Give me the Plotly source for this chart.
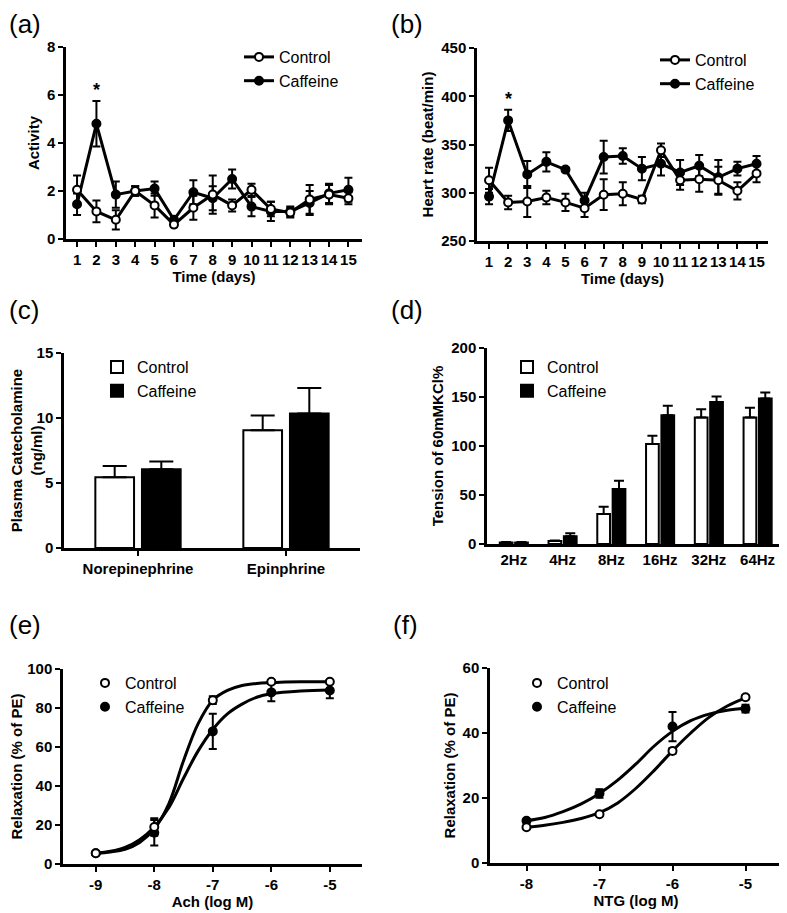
import plotly.graph_objects as go

W, H = 787, 913

# (a) activity
days = list(range(1, 16))
act_ctrl = [2.05, 1.15, 0.8, 2.0, 1.4, 0.6, 1.3, 1.85, 1.4, 2.05, 1.25, 1.1, 1.65, 1.85, 1.7]
act_ctrl_err = [0.6, 0.45, 0.4, 0.2, 0.5, 0.1, 0.5, 0.8, 0.25, 0.25, 0.3, 0.2, 0.6, 0.4, 0.25]
act_caff = [1.45, 4.8, 1.85, 2.0, 2.1, 0.8, 1.95, 1.7, 2.5, 1.35, 1.15, 1.15, 1.5, 1.9, 2.05]
act_caff_err = [0.45, 0.95, 0.55, 0.2, 0.3, 0.15, 0.5, 0.5, 0.4, 0.4, 0.4, 0.2, 0.5, 0.4, 0.5]

# (b) heart rate
hr_ctrl = [313, 290, 291, 295, 290, 284, 298, 299, 293, 344, 313, 314, 313, 302, 320]
hr_ctrl_err = [13, 7, 16, 7, 9, 9, 16, 12, 4, 7, 10, 13, 14, 9, 9]
hr_caff = [296, 375, 319, 332, 324, 292, 337, 338, 325, 330, 321, 328, 316, 325, 330]
hr_caff_err = [8, 11, 14, 10, 2, 8, 17, 8, 12, 12, 13, 11, 18, 7, 8]

# (c) plasma catecholamine
cat_groups = ["Norepinephrine", "Epinphrine"]
cat_ctrl = [5.45, 9.05]
cat_ctrl_err = [0.85, 1.15]
cat_caff = [6.05, 10.35]
cat_caff_err = [0.6, 1.95]

# (d) tension
freqs = ["2Hz", "4Hz", "8Hz", "16Hz", "32Hz", "64Hz"]
ten_ctrl = [1.5, 3, 30.5, 102, 129, 129]
ten_ctrl_err = [0.5, 0.5, 7.5, 8.5, 8.5, 10]
ten_caff = [1.5, 8, 56, 131.5, 145, 148.5]
ten_caff_err = [0.5, 3, 8.5, 9.5, 5.5, 6]

# (e) Ach relaxation
ach_x = [-9, -8, -7, -6, -5]
ach_ctrl = [5.5, 19, 84, 93.5, 93.5]
ach_ctrl_err = [0.8, 4.5, 2, 0.8, 0.8]
ach_caff = [5.5, 16, 68, 88, 89]
ach_caff_err = [0.8, 6.5, 9, 4.5, 4]
ach_fit_x = [-9, -8.75, -8.5, -8.25, -8, -7.75, -7.5, -7.25, -7, -6.75, -6.5, -6.25, -6, -5.5, -5]
ach_fit_ctrl = [5.5, 6.2, 7.5, 11, 18, 31, 53, 72, 84, 89, 91.5, 92.6, 93, 93.4, 93.5]
ach_fit_caff = [5.5, 6.5, 8.5, 12.5, 19, 29, 44, 58, 69, 77, 82, 85.5, 87.3, 88.7, 89.2]

# (f) NTG relaxation
ntg_x = [-8, -7, -6, -5]
ntg_ctrl = [11, 15, 34.5, 51]
ntg_ctrl_err = [0.5, 0.5, 0.8, 0.6]
ntg_caff = [13, 21.4, 42, 47.5]
ntg_caff_err = [0.5, 1.3, 4.5, 1.2]
ntg_fit_x = [-8, -7.75, -7.5, -7.25, -7, -6.75, -6.5, -6.25, -6, -5.75, -5.5, -5.25, -5]
ntg_fit_ctrl = [11, 11.6, 12.5, 13.7, 15.5, 18.5, 23, 28.5, 34.5, 40, 44.8, 48.3, 50.8]
ntg_fit_caff = [13, 14, 15.8, 18.2, 21.4, 25.5, 30.5, 36, 40.5, 43.8, 45.8, 47, 47.6]

FONT = "Liberation Sans, Arial, sans-serif"
OFF = 8  # page body margin in the browser


def px(x):
    return (x - OFF) / W


def py(y):
    return 1 - (y - OFF) / H


def err(vals, w=4):
    return dict(type="data", array=vals, color="black", thickness=2, width=w, visible=True)


def up_err(vals, w):
    return dict(type="data", array=vals, arrayminus=[0] * len(vals), symmetric=False,
                color="black", thickness=2, width=w, visible=True)


def axis_style(**kw):
    d = dict(showline=True, linecolor="black", linewidth=2.5, ticks="outside", ticklen=5,
             tickwidth=2, tickcolor="black", showgrid=False, zeroline=False, automargin=False,
             tickfont=dict(family=FONT, size=15, color="black", weight="bold"),
             title_font=dict(family=FONT, size=15, color="black", weight="bold"))
    d.update(kw)
    return d


fig = go.Figure()

open_m = dict(symbol="circle", size=8, color="white", line=dict(color="black", width=2))
fill_m = dict(symbol="circle", size=8, color="black", line=dict(color="black", width=2))
LW = 3

# panel a
fig.add_trace(go.Scatter(x=days, y=act_caff, error_y=err(act_caff_err), mode="lines+markers",
                         line=dict(color="black", width=LW), marker=fill_m, name="Caffeine",
                         xaxis="x", yaxis="y", legend="legend", legendrank=2))
fig.add_trace(go.Scatter(x=days, y=act_ctrl, error_y=err(act_ctrl_err), mode="lines+markers",
                         line=dict(color="black", width=LW), marker=open_m, name="Control",
                         xaxis="x", yaxis="y", legend="legend", legendrank=1))

# panel b
fig.add_trace(go.Scatter(x=days, y=hr_caff, error_y=err(hr_caff_err), mode="lines+markers",
                         line=dict(color="black", width=LW), marker=fill_m, name="Caffeine",
                         xaxis="x2", yaxis="y2", legend="legend2", legendrank=2))
fig.add_trace(go.Scatter(x=days, y=hr_ctrl, error_y=err(hr_ctrl_err), mode="lines+markers",
                         line=dict(color="black", width=LW), marker=open_m, name="Control",
                         xaxis="x2", yaxis="y2", legend="legend2", legendrank=1))

# panel c
fig.add_trace(go.Bar(x=cat_groups, y=cat_ctrl, error_y=up_err(cat_ctrl_err, 12), name="Control",
                     marker=dict(color="white", line=dict(color="black", width=2)),
                     xaxis="x3", yaxis="y3", legend="legend3", offsetgroup="c1"))
fig.add_trace(go.Bar(x=cat_groups, y=cat_caff, error_y=up_err(cat_caff_err, 12), name="Caffeine",
                     marker=dict(color="black", line=dict(color="black", width=2)),
                     xaxis="x3", yaxis="y3", legend="legend3", offsetgroup="c2"))

# panel d
fig.add_trace(go.Bar(x=freqs, y=ten_ctrl, error_y=up_err(ten_ctrl_err, 5), name="Control",
                     marker=dict(color="white", line=dict(color="black", width=2)),
                     xaxis="x4", yaxis="y4", legend="legend4", offsetgroup="d1"))
fig.add_trace(go.Bar(x=freqs, y=ten_caff, error_y=up_err(ten_caff_err, 5), name="Caffeine",
                     marker=dict(color="black", line=dict(color="black", width=2)),
                     xaxis="x4", yaxis="y4", legend="legend4", offsetgroup="d2"))

# panel e
fig.add_trace(go.Scatter(x=ach_fit_x, y=ach_fit_ctrl, mode="lines", line=dict(color="black", width=LW, shape="spline"),
                         showlegend=False, xaxis="x5", yaxis="y5"))
fig.add_trace(go.Scatter(x=ach_fit_x, y=ach_fit_caff, mode="lines", line=dict(color="black", width=LW, shape="spline"),
                         showlegend=False, xaxis="x5", yaxis="y5"))
fig.add_trace(go.Scatter(x=ach_x, y=ach_caff, error_y=err(ach_caff_err), mode="markers", marker=fill_m,
                         name="Caffeine", xaxis="x5", yaxis="y5", legend="legend5", legendrank=2))
fig.add_trace(go.Scatter(x=ach_x, y=ach_ctrl, error_y=err(ach_ctrl_err), mode="markers", marker=open_m,
                         name="Control", xaxis="x5", yaxis="y5", legend="legend5", legendrank=1))

# panel f
fig.add_trace(go.Scatter(x=ntg_fit_x, y=ntg_fit_ctrl, mode="lines", line=dict(color="black", width=LW, shape="spline"),
                         showlegend=False, xaxis="x6", yaxis="y6"))
fig.add_trace(go.Scatter(x=ntg_fit_x, y=ntg_fit_caff, mode="lines", line=dict(color="black", width=LW, shape="spline"),
                         showlegend=False, xaxis="x6", yaxis="y6"))
fig.add_trace(go.Scatter(x=ntg_x, y=ntg_caff, error_y=err(ntg_caff_err), mode="markers", marker=fill_m,
                         name="Caffeine", xaxis="x6", yaxis="y6", legend="legend6", legendrank=2))
fig.add_trace(go.Scatter(x=ntg_x, y=ntg_ctrl, error_y=err(ntg_ctrl_err), mode="markers", marker=open_m,
                         name="Control", xaxis="x6", yaxis="y6", legend="legend6", legendrank=1))

leg_font = dict(family=FONT, size=16, color="black")


def leg(x, y):
    return dict(x=px(x), y=py(y), xanchor="left", yanchor="top", bgcolor="rgba(0,0,0,0)",
                font=leg_font, tracegroupgap=0, itemwidth=30, traceorder="normal")


fig.update_layout(
    width=W, height=H, margin=dict(l=0, r=0, t=0, b=0, autoexpand=False),
    paper_bgcolor="white", plot_bgcolor="white",
    font=dict(family=FONT, color="black"),
    bargap=0.37, bargroupgap=0.17, barmode="group",
    xaxis=axis_style(domain=[px(66), px(362)], range=[0.43, 15.7], tickvals=days, anchor="y",
                     title=dict(text="Time (days)", standoff=2)),
    yaxis=axis_style(domain=[py(239), py(47)], range=[0, 8], tickvals=[0, 2, 4, 6, 8], anchor="x",
                     title=dict(text="Activity", standoff=4)),
    xaxis2=axis_style(domain=[px(477), px(768)], range=[0.37, 15.6], tickvals=days, anchor="y2",
                      title=dict(text="Time (days)", standoff=2)),
    yaxis2=axis_style(domain=[py(241), py(48)], range=[250, 450], tickvals=[250, 300, 350, 400, 450],
                      anchor="x2", title=dict(text="Heart rate (beat/min)", standoff=4)),
    xaxis3=axis_style(domain=[px(64), px(360)], range=[-0.5, 1.5], anchor="y3"),
    yaxis3=axis_style(domain=[py(548), py(353)], range=[0, 15], tickvals=[0, 5, 10, 15], anchor="x3",
                      title=dict(text="Plasma Catecholamine<br>(ng/ml)", standoff=6)),
    xaxis4=axis_style(domain=[px(487), px(782)], range=[-0.55, 5.5], anchor="y4", ticks=""),
    yaxis4=axis_style(domain=[py(544), py(348)], range=[0, 200], tickvals=[0, 50, 100, 150, 200],
                      anchor="x4", title=dict(text="Tension of 60mMKCl%", standoff=4)),
    xaxis5=axis_style(domain=[px(63), px(362)], range=[-9.56, -4.45], anchor="y5",
                      tickvals=[-9, -8, -7, -6, -5], ticktext=["-9", "-8", "-7", "-6", "-5"],
                      title=dict(text="Ach (log M)", standoff=2)),
    yaxis5=axis_style(domain=[py(864), py(669)], range=[0, 100], tickvals=[0, 20, 40, 60, 80, 100],
                      anchor="x5", title=dict(text="Relaxation (% of PE)", standoff=4)),
    xaxis6=axis_style(domain=[px(490), px(782)], range=[-8.5, -4.5], anchor="y6",
                      tickvals=[-8, -7, -6, -5], ticktext=["-8", "-7", "-6", "-5"],
                      title=dict(text="NTG (log M)", standoff=2)),
    yaxis6=axis_style(domain=[py(863), py(668)], range=[0, 60], tickvals=[0, 20, 40, 60],
                      anchor="x6", title=dict(text="Relaxation (% of PE)", standoff=4)),
    legend=leg(239, 40),
    legend2=leg(655, 43),
    legend3=leg(97, 350),
    legend4=leg(507, 350),
    legend5=leg(85, 666),
    legend6=leg(517, 666),
)

panel_labels = [("(a)", 8, 8), ("(b)", 390, 8), ("(c)", 8, 294), ("(d)", 390, 294),
                ("(e)", 8, 609), ("(f)", 392, 609)]
for txt, x, y in panel_labels:
    fig.add_annotation(text=txt, x=px(x), y=py(y), xref="paper", yref="paper", xanchor="left",
                       yanchor="top", showarrow=False, borderpad=0,
                       font=dict(family=FONT, size=26, color="black"))

fig.add_annotation(text="*", x=2, y=6.2, xref="x", yref="y", showarrow=False, yanchor="middle",
                   font=dict(family=FONT, size=18, color="black", weight="bold"))
fig.add_annotation(text="*", x=2, y=397, xref="x2", yref="y2", showarrow=False, yanchor="middle",
                   font=dict(family=FONT, size=18, color="black", weight="bold"))

fig.write_html("out.html")
